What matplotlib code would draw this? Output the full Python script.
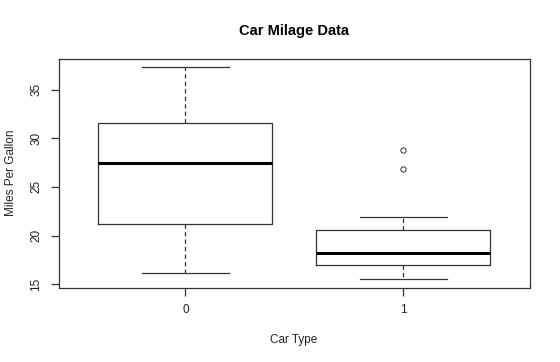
import matplotlib
matplotlib.use("Agg")
import matplotlib.pyplot as plt

plt.rcParams['font.family'] = ['Liberation Sans', 'DejaVu Sans']

# ----------------------------
# Box statistics
# ----------------------------
car_types = ["0", "1"]
medians = [27.45, 18.25]
q1s = [21.15, 16.95]
q3s = [31.6, 20.55]
whis_lo = [16.2, 15.55]
whis_hi = [37.35, 21.9]
outliers = [[], [26.8, 28.8]]

stats = []
for i in range(len(car_types)):
    stats.append(dict(label=car_types[i], med=medians[i], q1=q1s[i], q3=q3s[i],
                      whislo=whis_lo[i], whishi=whis_hi[i], fliers=outliers[i]))

fig = plt.figure(figsize=(5.6, 3.62), dpi=100)
ax = fig.add_axes([59 / 560, 1 - 287.5 / 362, 470.5 / 560, 228.2 / 362])

lc = "#333333"
ax.bxp(stats, positions=[1, 2], widths=0.8, patch_artist=False,
       boxprops=dict(color=lc, linewidth=0.9),
       medianprops=dict(color="black", linewidth=2.2),
       whiskerprops=dict(color=lc, linewidth=0.9, linestyle=(0, (3.5, 2.5))),
       capprops=dict(color=lc, linewidth=0.9),
       capwidths=0.4,
       flierprops=dict(marker="o", markersize=3.8, markerfacecolor="none",
                       markeredgecolor=lc, markeredgewidth=0.7))

ax.set_xlim(0.42, 2.58)
ax.set_ylim(14.66, 38.12)
ax.set_yticks([15, 20, 25, 30, 35])
ax.set_yticklabels(["15", "20", "25", "30", "35"], rotation=90, va="center")
ax.set_xticks([1, 2])
ax.set_xticklabels(car_types)

for s in ax.spines.values():
    s.set_color(lc)
    s.set_linewidth(0.9)
ax.tick_params(axis="both", colors=lc, labelcolor="#222222", labelsize=8.5,
               length=6, width=0.9, pad=6)

fig.text(294 / 560, 1 - 31 / 362, "Car Milage Data", ha="center", va="center",
         fontsize=10.5, fontweight="bold")
fig.text(294 / 560, 1 - 340 / 362, "Car Type", ha="center", va="center",
         fontsize=8.5, color="#222222")
fig.text(11 / 560, 1 - 173 / 362, "Miles Per Gallon", ha="center", va="center",
         rotation=90, fontsize=8.5, color="#222222")

fig.savefig("out.png", dpi=100)
